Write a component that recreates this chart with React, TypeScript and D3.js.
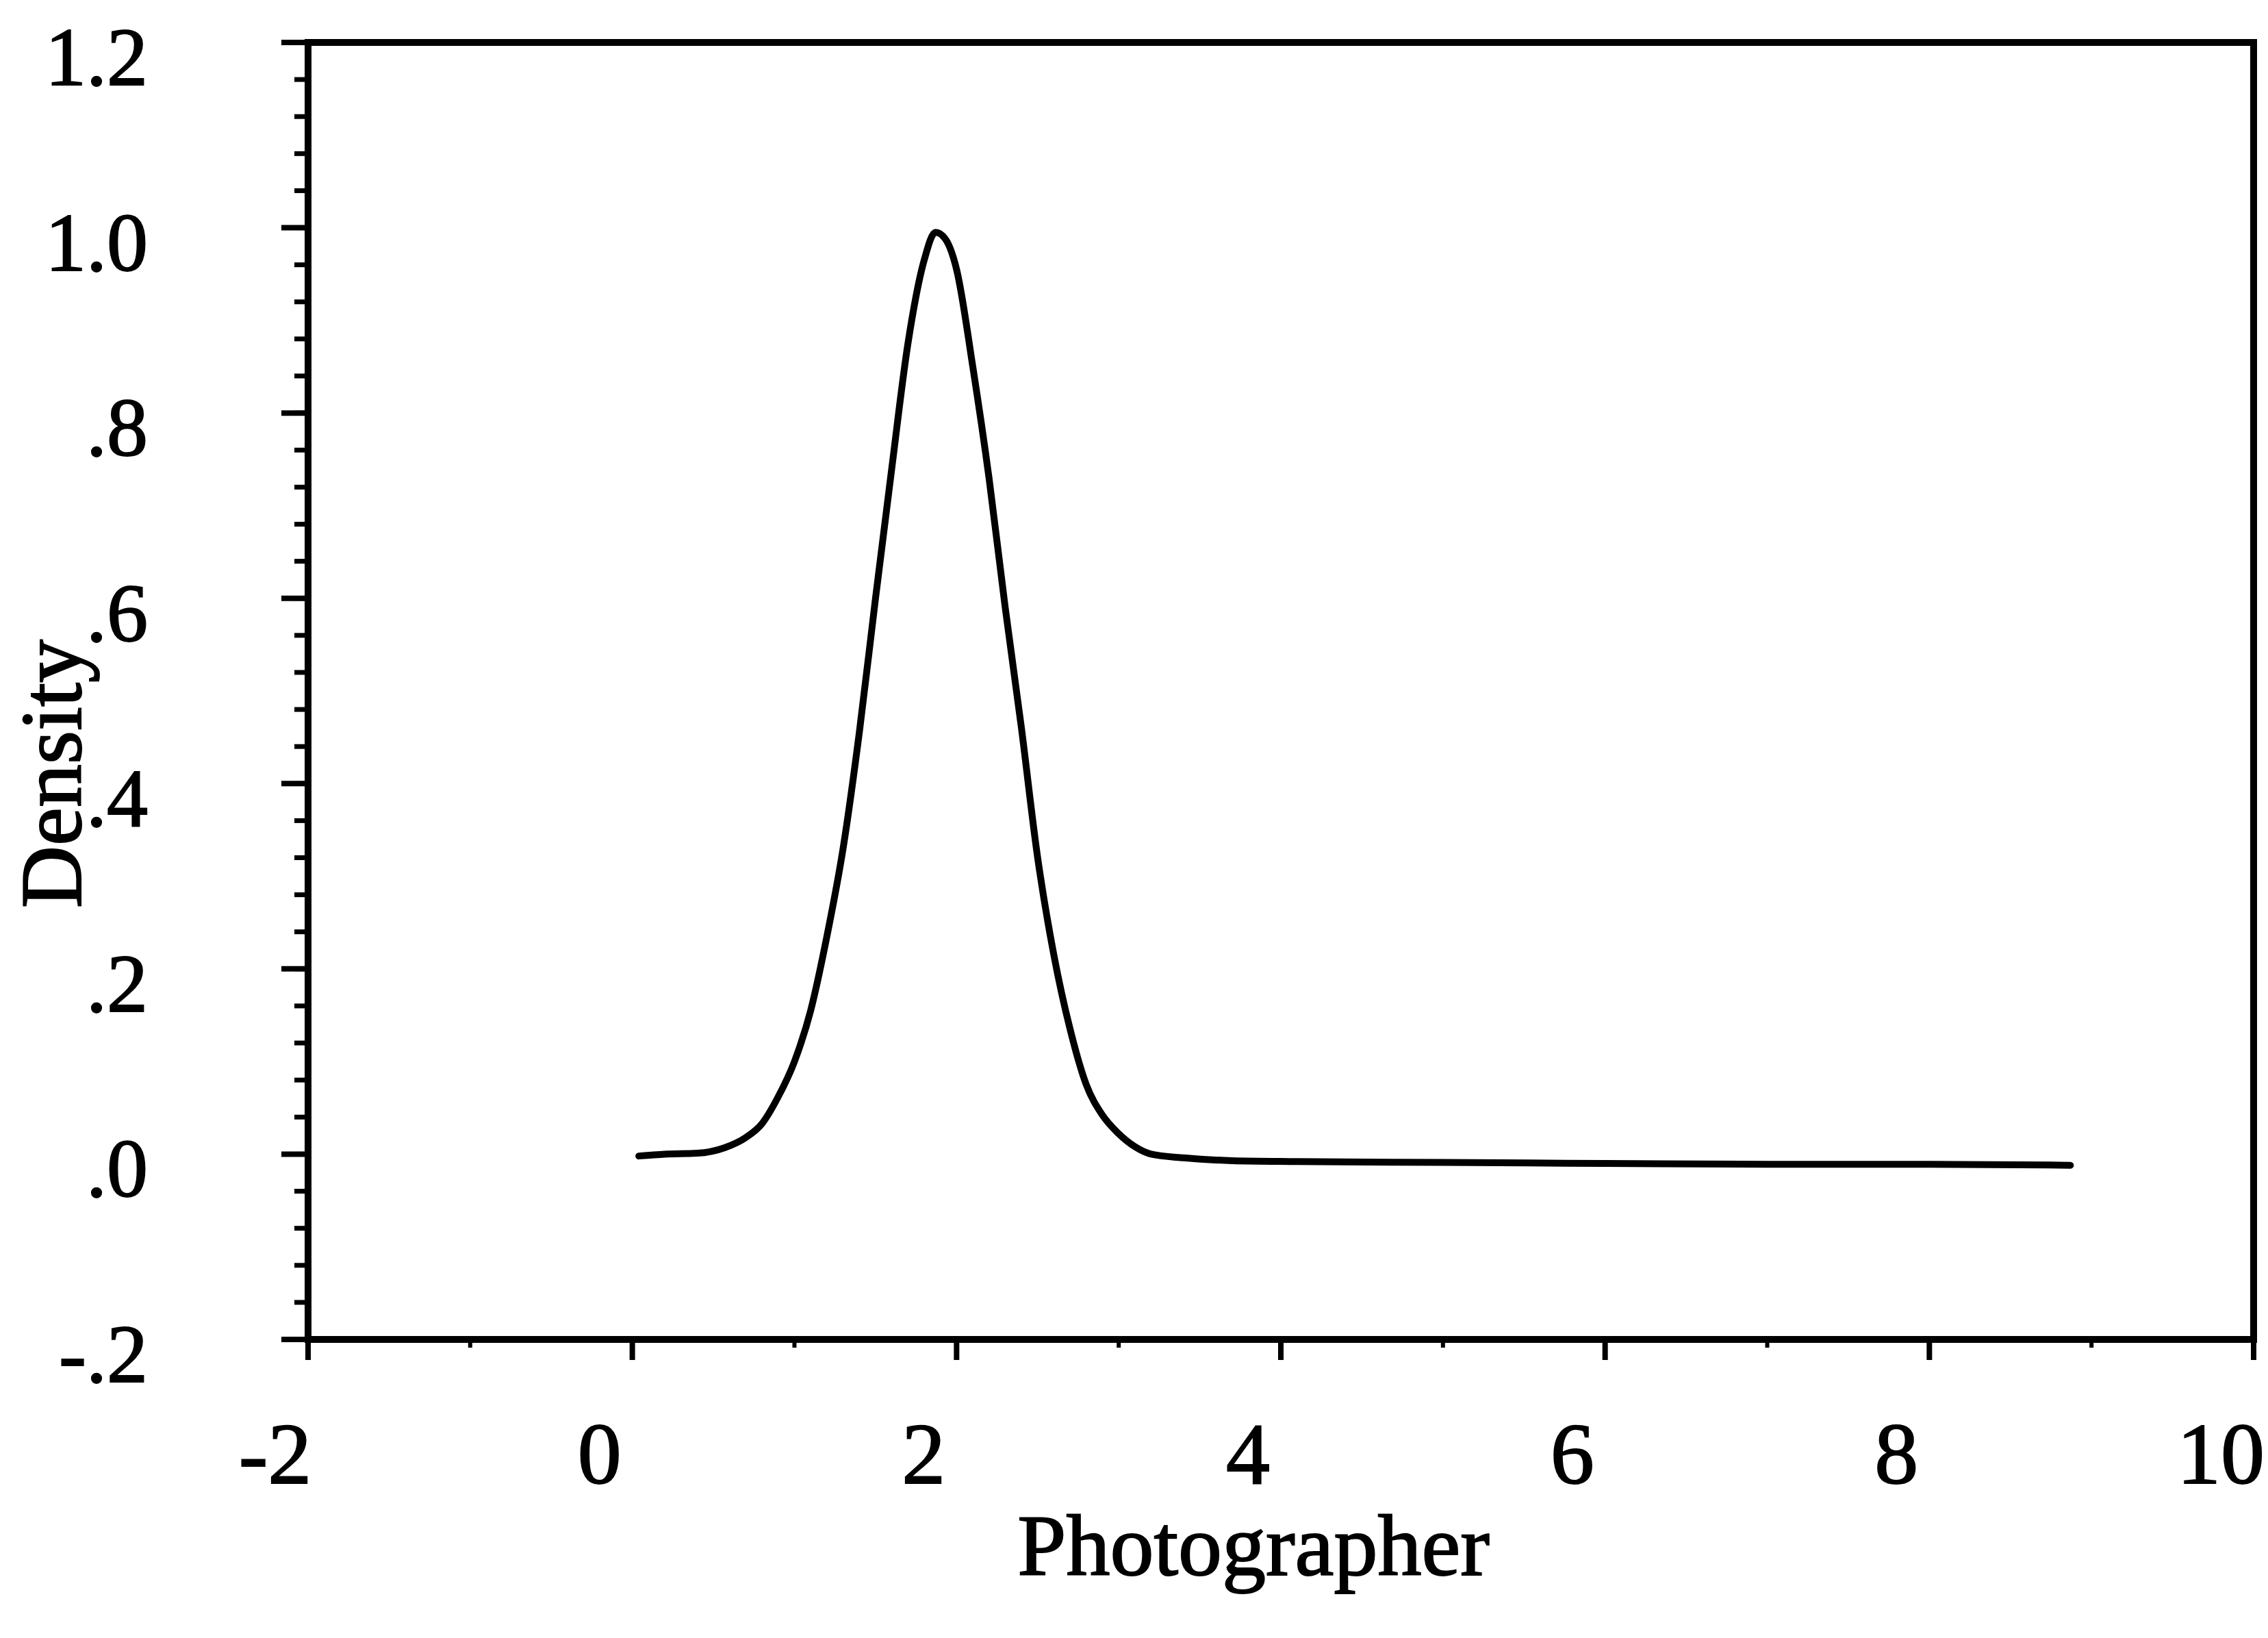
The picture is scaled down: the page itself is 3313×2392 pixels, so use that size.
import React from "react";
import * as d3 from "d3";

const W = 3313;
const H = 2392;

// Density curve (x = Photographer, y = Density)
const curveX = [
  0.04, 0.2, 0.4, 0.57, 0.7, 0.8, 0.9, 1.0, 1.1, 1.2, 1.3, 1.4, 1.5, 1.6, 1.7, 1.8,
  1.87, 1.93, 2.0, 2.1, 2.2, 2.3, 2.4, 2.5, 2.6, 2.7, 2.8, 2.9, 3.0, 3.1, 3.2,
  3.4, 3.7, 4.1, 5.0, 6.0, 7.0, 8.0, 8.87,
];
const curveY = [
  -0.002, 0.0, 0.001, 0.007, 0.018, 0.033, 0.062, 0.1, 0.155, 0.235, 0.33, 0.455, 0.6, 0.74, 0.875, 0.965,
  0.995, 0.988, 0.955, 0.85, 0.73, 0.59, 0.46, 0.32, 0.215, 0.135, 0.075, 0.042, 0.022, 0.008, 0.0,
  -0.004, -0.007, -0.008, -0.009, -0.01, -0.011, -0.011, -0.012,
];

const xTicks = [-2, 0, 2, 4, 6, 8, 10];
const xTickLabels = ["-2", "0", "2", "4", "6", "8", "10"];
const xMinorTicks = [-1, 1, 3, 5, 7, 9];
const yTicks = [-0.2, 0.0, 0.2, 0.4, 0.6, 0.8, 1.0, 1.2];
const yTickLabels = ["-.2", ".0", ".2", ".4", ".6", ".8", "1.0", "1.2"];
const xTitle = "Photographer";
const yTitle = "Density";

export default function App() {
  const left = 450;
  const right = 3292;
  const top = 62;
  const bottom = 1956;

  const x = d3.scaleLinear().domain([-2, 10]).range([left, right]);
  const y = d3.scaleLinear().domain([-0.2, 1.2]).range([bottom, top]);

  const yMinor = d3.range(-0.2, 1.2001, 0.04);

  const pts: [number, number][] = curveX.map((v, i) => [v, curveY[i]]);
  const line = d3
    .line<[number, number]>()
    .x((d) => x(d[0]))
    .y((d) => y(d[1]))
    .curve(d3.curveMonotoneX);

  const font = "Liberation Serif";
  const textStyle = (size: number): React.CSSProperties => ({
    fontFamily: "'Liberation Serif', serif",
    fontSize: size,
    fontWeight: 400,
    stroke: "#000",
    strokeWidth: 2,
  });

  return (
    <svg
      width={W}
      height={H}
      style={{ position: "absolute", left: 0, top: 0, background: "#fff" }}
    >
      <rect x={0} y={0} width={W} height={H} fill="#fff" />
      {/* frame */}
      <rect
        x={left}
        y={top}
        width={right - left}
        height={bottom - top}
        fill="none"
        stroke="#000"
        strokeWidth={10}
      />
      {/* y minor ticks */}
      {yMinor.map((v, i) => (
        <line
          key={"ym" + i}
          x1={left - 20}
          x2={left}
          y1={y(v)}
          y2={y(v)}
          stroke="#000"
          strokeWidth={7}
        />
      ))}
      {/* y major ticks + labels */}
      {yTicks.map((v, i) => (
        <g key={"y" + i}>
          <line x1={left - 39} x2={left} y1={y(v)} y2={y(v)} stroke="#000" strokeWidth={8} />
          <text x={216} y={y(v) + 62} textAnchor="end" fill="#000" style={textStyle(120)} fontFamily={font}>
            {yTickLabels[i]}
          </text>
        </g>
      ))}
      {/* x minor ticks */}
      {xMinorTicks.map((v, i) => (
        <line
          key={"xm" + i}
          x1={x(v)}
          x2={x(v)}
          y1={bottom}
          y2={bottom + 12}
          stroke="#000"
          strokeWidth={6}
        />
      ))}
      {/* x major ticks + labels */}
      {xTicks.map((v, i) => (
        <g key={"x" + i}>
          <line x1={x(v)} x2={x(v)} y1={bottom} y2={bottom + 30} stroke="#000" strokeWidth={8} />
          <text x={x(v) - 48} y={2166} textAnchor="middle" fill="#000" style={textStyle(128)} fontFamily={font}>
            {xTickLabels[i]}
          </text>
        </g>
      ))}
      {/* curve */}
      <path
        d={line(pts) || ""}
        fill="none"
        stroke="#000"
        strokeWidth={10}
        strokeLinejoin="round"
        strokeLinecap="round"
      />
      {/* titles */}
      <text x={1831} y={2300} textAnchor="middle" fill="#000" style={textStyle(128)} fontFamily={font}>
        {xTitle}
      </text>
      <text
        transform={`translate(118, 1130) rotate(-90)`}
        textAnchor="middle"
        fill="#000"
        style={textStyle(126)}
        fontFamily={font}
      >
        {yTitle}
      </text>
    </svg>
  );
}
